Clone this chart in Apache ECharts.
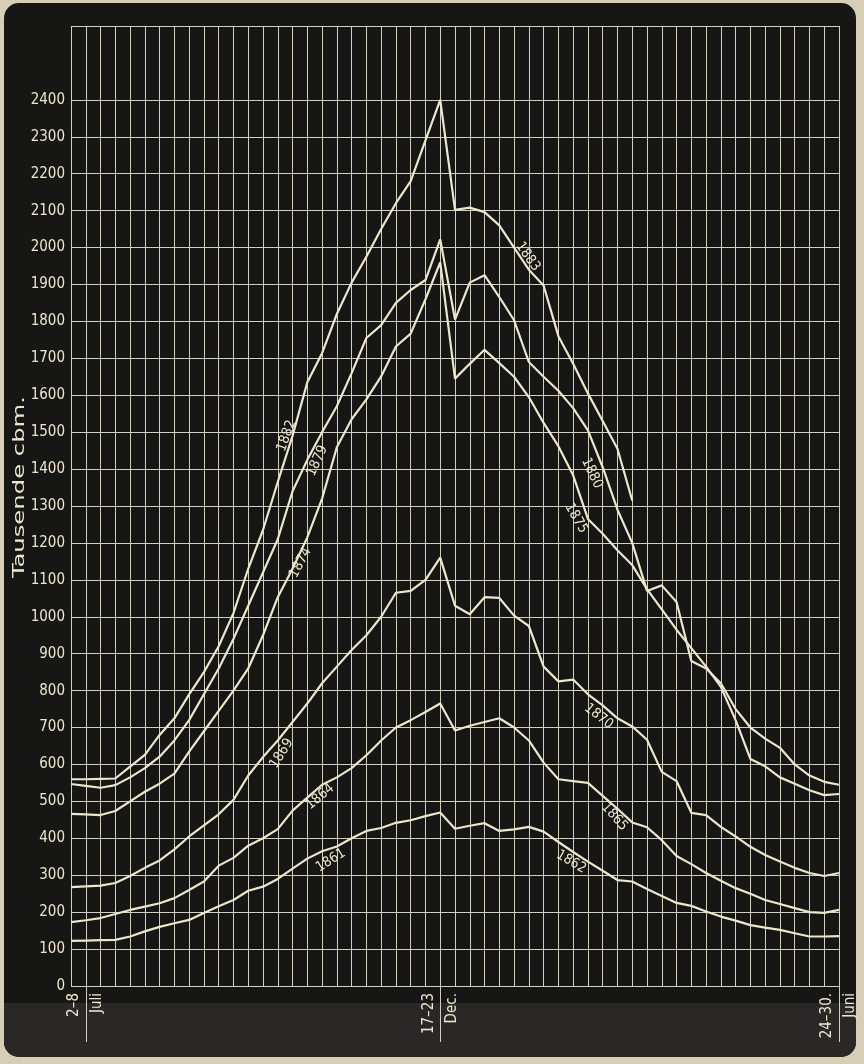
<!DOCTYPE html>
<html>
<head>
<meta charset="utf-8">
<script src="https://cdn.jsdelivr.net/npm/echarts@6/dist/echarts.min.js"></script>
<style>
  html, body { margin: 0; padding: 0; background: #d6cfb6; }
  #chart { width: 864px; height: 1064px; }
</style>
</head>
<body>
<div id="chart"></div>
<script>
// Weekly water delivery (thousand m³), one year from July to June.
const WEEKS = [
  '25.6.–1.7.', '2.–8.7.', '9.–15.7.', '16.–22.7.', '23.–29.7.', '30.7.–5.8.',
  '6.–12.8.', '13.–19.8.', '20.–26.8.', '27.8.–2.9.', '3.–9.9.', '10.–16.9.',
  '17.–23.9.', '24.–30.9.', '1.–7.10.', '8.–14.10.', '15.–21.10.', '22.–28.10.',
  '29.10.–4.11.', '5.–11.11.', '12.–18.11.', '19.–25.11.', '26.11.–2.12.', '3.–9.12.',
  '10.–16.12.', '17.–23.12.', '24.–30.12.', '31.12.–6.1.', '7.–13.1.', '14.–20.1.',
  '21.–27.1.', '28.1.–3.2.', '4.–10.2.', '11.–17.2.', '18.–24.2.', '25.2.–3.3.',
  '4.–10.3.', '11.–17.3.', '18.–24.3.', '25.–31.3.', '1.–7.4.', '8.–14.4.',
  '15.–21.4.', '22.–28.4.', '29.4.–5.5.', '6.–12.5.', '13.–19.5.', '20.–26.5.',
  '27.5.–2.6.', '3.–9.6.', '10.–16.6.', '17.–23.6.', '24.–30.6.'
];

// Week labels printed under the axis: [dates, month]
const TICK_LABELS = { 1: ['2–8', 'Juli'], 25: ['17–23', 'Dec.'], 52: ['24–30.', 'Juni'] };

const Y_MAX_LABEL = 2400;

const Y_1882_83 = [560, 560, 561, 562, 594, 626, 680, 725, 790, 850, 920, 1010, 1130, 1235, 1365, 1490, 1635, 1714, 1820, 1905, 1975, 2050, 2120, 2180, 2290, 2400,
  2102, 2108, 2096, 2060, 2000, 1940, 1897, 1760, 1685, 1605, 1530, 1455, 1315,
  null, null, null, null, null, null, null, null, null, null, null, null, null, null];
const Y_1879_80 = [547, 542, 537, 544, 565, 590, 621, 665, 720, 790, 860, 940, 1030, 1120, 1210, 1340, 1425, 1500, 1570, 1660, 1755, 1790, 1850, 1885, 1912, 2022,
  1805, 1905, 1925, 1866, 1803, 1690, 1650, 1612, 1565, 1505, 1405, 1290, 1200, 1070, 1085, 1040, 880, 860, 820, 750, 700, 670, 645, 600, 570, 553, 545];
const Y_1874_75 = [466, 465, 463, 474, 500, 526, 548, 575, 635, 690, 745, 800, 860, 950, 1053, 1130, 1215, 1320, 1459, 1535, 1589, 1651, 1732, 1767, 1860, 1960,
  1645, 1685, 1723, 1687, 1650, 1595, 1525, 1462, 1383, 1265, 1225, 1180, 1140, 1075, 1020, 965, 915, 865, 810, 720, 615, 595, 565, 548, 530, 517, 520];
const Y_1869_70 = [268, 270, 272, 279, 298, 320, 340, 370, 405, 435, 465, 504, 570, 620, 665, 715, 765, 820, 865, 910, 950, 1000, 1065, 1070, 1100, 1160,
  1030, 1007, 1053, 1051, 1003, 975, 865, 825, 830, 790, 760, 725, 703, 667, 580, 555, 469, 463, 431, 405, 377, 355, 337, 320, 306, 298, 306];
const Y_1864_65 = [173, 178, 184, 195, 206, 215, 224, 238, 260, 283, 326, 347, 380, 400, 425, 475, 510, 545, 565, 590, 625, 665, 700, 720, 742, 765,
  692, 705, 715, 725, 700, 665, 605, 560, 555, 550, 515, 480, 443, 430, 395, 352, 330, 306, 285, 265, 250, 233, 222, 211, 200, 198, 206];
const Y_1861_62 = [122, 123, 124, 125, 134, 148, 160, 170, 179, 198, 216, 233, 258, 269, 290, 318, 345, 365, 378, 400, 420, 428, 442, 449, 460, 470,
  426, 434, 441, 420, 424, 431, 418, 390, 363, 337, 312, 287, 283, 263, 244, 225, 217, 202, 188, 177, 165, 158, 152, 143, 134, 134, 135];

const SERIES = [
  { name: '1882/83', data: Y_1882_83 },
  { name: '1879/80', data: Y_1879_80 },
  { name: '1874/75', data: Y_1874_75 },
  { name: '1869/70', data: Y_1869_70 },
  { name: '1864/65', data: Y_1864_65 },
  { name: '1861/62', data: Y_1861_62 }
];

// Year tags written along each curve: [text, week index, screen shift x, screen shift y, rotation]
const CURVE_TAGS = {
  '1882/83': [['1882', 15, -6, 0, 70], ['1883', 31, -1, -13, -55]],
  '1879/80': [['1879', 16, 10, 1, 66], ['1880', 35, 4, 43, -65]],
  '1874/75': [['1874', 15, 8, -6, 62], ['1875', 34, 3, 43, -60]],
  '1869/70': [['1869', 14, 4, 13, 58], ['1870', 36, -4, 11, -38]],
  '1864/65': [['1864', 17, -2, 12, 40], ['1865', 37, -3, 8, -48]],
  '1861/62': [['1861', 18, -6, 14, 32], ['1862', 34, -2, 10, -30]]
};

const FONT = '"DejaVu Sans Condensed", "Liberation Sans", sans-serif';
const INK = '#ece6cd';
const GRID_INK = '#d3cfbf';

// Label offsets are given on screen; ECharts applies them in the rotated text frame.
function localOffset(dx, dy, deg) {
  const r = deg * Math.PI / 180;
  const c = Math.cos(r), s = Math.sin(r);
  return [dx * c - dy * s, dx * s + dy * c];
}

// Horizontal rules every 100; the 2500 rule is left out, 2600 closes the frame.
const yRuleColors = [];
for (let v = 0; v <= 2600; v += 100) yRuleColors.push(v === 2500 ? 'rgba(0,0,0,0)' : GRID_INK);

const chart = echarts.init(document.getElementById('chart'), null, { renderer: 'canvas' });

chart.setOption({
  animation: false,
  backgroundColor: '#d6cfb6',
  graphic: [
    { type: 'rect', z: -100, shape: { x: 4, y: 3, width: 852, height: 1054, r: 15 }, style: { fill: '#161614' } },
    { type: 'rect', z: -99, shape: { x: 4, y: 1003, width: 852, height: 54, r: [0, 0, 15, 15] }, style: { fill: '#292826' } },
    {
      type: 'text', z: 10, x: 20, y: 487, rotation: Math.PI / 2, scaleX: 1.8,
      style: { text: 'Tausende cbm.', fill: INK, font: '15px ' + FONT, align: 'center', verticalAlign: 'middle' }
    }
  ],
  grid: { left: 71, right: 25, top: 26, bottom: 78, containLabel: false },
  xAxis: {
    type: 'category',
    data: WEEKS,
    boundaryGap: false,
    axisLine: { show: false },
    axisTick: {
      show: true,
      length: 56,
      interval: (i) => TICK_LABELS[i] !== undefined,
      lineStyle: { color: GRID_INK, width: 1 }
    },
    axisLabel: {
      show: true,
      interval: (i) => TICK_LABELS[i] !== undefined,
      rotate: 90,
      margin: 7,
      color: INK,
      fontFamily: FONT,
      fontSize: 15,
      lineHeight: 23,
      formatter: (value, i) => (TICK_LABELS[i] ? TICK_LABELS[i].join('\n') : '')
    },
    splitLine: { show: true, interval: 0, lineStyle: { color: GRID_INK, width: 1 } }
  },
  yAxis: {
    type: 'value',
    min: 0,
    max: 2600,
    interval: 100,
    axisLine: { show: false },
    axisTick: { show: false },
    axisLabel: {
      margin: 6,
      color: INK,
      fontFamily: FONT,
      fontSize: 15,
      formatter: (v) => (v <= Y_MAX_LABEL ? String(v) : '')
    },
    splitLine: { show: true, lineStyle: { color: yRuleColors, width: 1 } }
  },
  series: SERIES.map((s) => ({
    name: s.name,
    type: 'line',
    data: s.data,
    symbol: 'none',
    connectNulls: false,
    z: 5,
    lineStyle: { color: INK, width: 2.2 },
    markPoint: {
      symbol: 'circle',
      symbolSize: 0,
      silent: true,
      data: CURVE_TAGS[s.name].map(([text, i, dx, dy, rot]) => ({
        coord: [WEEKS[i], s.data[i]],
        label: {
          show: true,
          formatter: text,
          position: 'inside',
          offset: localOffset(dx, dy, rot),
          rotate: rot,
          color: INK,
          fontFamily: FONT,
          fontSize: 14,
          align: 'center',
          verticalAlign: 'middle'
        }
      }))
    }
  }))
});
</script>
</body>
</html>
